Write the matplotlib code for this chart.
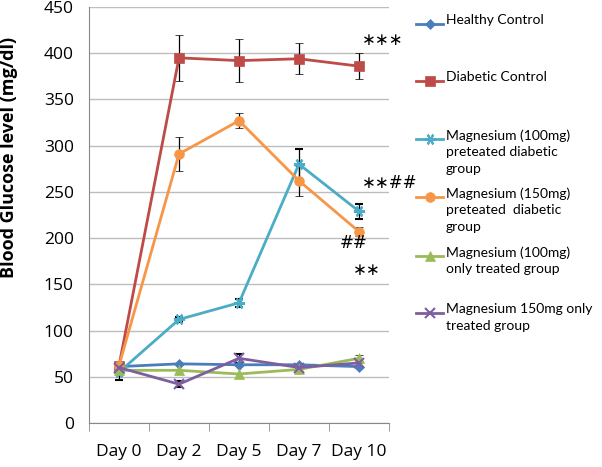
import numpy as np
import matplotlib
matplotlib.use('Agg')
import matplotlib.pyplot as plt
from matplotlib.lines import Line2D

plt.rcParams['font.family'] = ['Open Sans', 'DejaVu Sans']

days = ['Day 0', 'Day 2', 'Day 5', 'Day 7', 'Day 10']

healthy = [61, 64, 63, 63, 61]
healthy_err = [0, 0, 0, 0, 0]
diabetic = [62, 395, 392, 394, 386]
diabetic_err = [0, 25, 23, 17, 14]
mg100_pre = [55, 112, 130, 280, 229]
mg100_pre_err = [8, 3, 4, 16, 8]
mg150_pre = [62, 291, 327, 262, 207]
mg150_pre_err = [0, 18, 8, 16, 5]
mg100_only = [57, 57, 53, 58, 70]
mg100_only_err = [0, 0, 0, 0, 4]
mg150_only = [60, 42, 70, 60, 65]
mg150_only_err = [0, 3, 5, 0, 0]

labels = ['Healthy Control',
          'Diabetic Control',
          'Magnesium (100mg)\npreteated diabetic\ngroup',
          'Magnesium (150mg)\npreteated  diabetic\ngroup',
          'Magnesium (100mg)\nonly treated group',
          'Magnesium 150mg only\ntreated group']

series = [healthy, diabetic, mg100_pre, mg150_pre, mg100_only, mg150_only]
errors = [healthy_err, diabetic_err, mg100_pre_err, mg150_pre_err,
          mg100_only_err, mg150_only_err]
colors = ['#4a7ebb', '#be4b48', '#4bacc6', '#f79646', '#9bbb59', '#7d5fa0']
markers = ['D', 's', (6, 2, 90), 'o', '^', 'x']
msizes = [5, 7, 8, 7, 7, 7]

W, H = 602, 467
fig = plt.figure(figsize=(W / 100, H / 100), dpi=100)
ax = fig.add_axes([89 / W, 1 - 423 / H, 300 / W, 416 / H])

x = np.arange(len(days))
for vals, err, c, m, ms in zip(series, errors, colors, markers, msizes):
    ax.errorbar(x, vals, yerr=err, color=c, marker=m, markersize=ms,
                linewidth=2, ecolor='black', elinewidth=0.9, capsize=3,
                capthick=0.9, markeredgewidth=1.5 if m in ('x', (6, 2, 90)) else 0.5)

ax.set_xlim(-0.5, 4.5)
ax.set_ylim(0, 450)
ax.set_yticks(np.arange(0, 451, 50))
ax.yaxis.grid(True, color='#bdbdbd', linewidth=1)
ax.set_axisbelow(True)
ax.set_xticks(x)
ax.set_xticklabels(days)
ax.set_xticks(np.arange(-0.5, 4.6, 1), minor=True)
ax.tick_params(axis='x', which='major', length=0, pad=15, labelsize=12.5)
ax.tick_params(axis='x', which='minor', length=6, color='#888888')
ax.tick_params(axis='y', length=0, pad=11, labelsize=12.5)
for sp in ['top', 'right']:
    ax.spines[sp].set_visible(False)
for sp in ['left', 'bottom']:
    ax.spines[sp].set_color('#888888')

# y title sits high, as in the original Excel chart
fig.text(9 / W, 1 - 157 / H, 'Blood Glucose level (mg/dl)', fontsize=13,
         fontweight='bold', rotation=90, ha='center', va='center')

# significance marks
ax.text(4.05, 414, '∗∗∗', fontsize=12, family=['DejaVu Sans'], va='center')
ax.text(4.05, 260, '∗∗##', fontsize=12, family=['DejaVu Sans'], va='center')
ax.text(3.68, 195, '##', fontsize=12, family=['DejaVu Sans'], va='center')
ax.text(3.90, 166, '∗∗', fontsize=12, family=['DejaVu Sans'], va='center')

# legend drawn by hand to keep the Excel-like spacing
ys = [24, 81, 139, 197, 256, 313]
for lab, c, m, ms, yy in zip(labels, colors, markers, msizes, ys):
    fy = 1 - yy / H
    ln = Line2D([416 / W, 430 / W, 443 / W], [fy, fy, fy],
                transform=fig.transFigure, color=c, linewidth=2,
                marker=m, markersize=ms, markevery=[1],
                markeredgewidth=1.5 if m in ('x', (6, 2, 90)) else 0.5)
    fig.add_artist(ln)
    fig.text(446 / W, 1 - (yy - 10) / H, lab, fontsize=10, va='top',
             family=['Lato', 'DejaVu Sans'], linespacing=1.45)

fig.savefig('out.png', dpi=100)
